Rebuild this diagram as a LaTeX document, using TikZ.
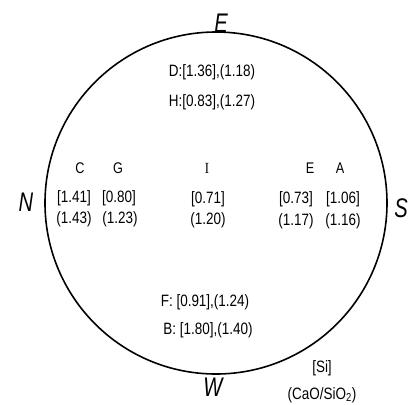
\documentclass[tikz,border=0pt]{standalone}
\usepackage{fontspec}
\setmainfont{Liberation Sans}
\newfontfamily\seriffont{Liberation Serif}
\newcommand\narrowtxt[1]{\scalebox{0.82}[1]{#1}}
\begin{document}
\begin{tikzpicture}[x=1bp,y=-1bp,
  lbl/.style={inner sep=0pt, font=\fontsize{15.5}{18}\selectfont},
  val/.style={inner sep=0pt, font=\fontsize{16.5}{18}\selectfont},
  compass/.style={inner sep=0pt, font=\fontsize{27}{27}\selectfont\itshape}]
\useasboundingbox (0,0) rectangle (414,405);
\node[draw, circle, line width=1.6bp, minimum size=342bp, inner sep=0pt] (ring) at (216,203) {};
% compass letters
\node[compass] (cE) at (221,23) {\scalebox{0.75}[1]{E}};
\node[compass] (cN) at (26,202) {\scalebox{0.75}[1]{N}};
\node[compass] (cS) at (401,208) {\scalebox{0.75}[1]{S}};
\node[compass] (cW) at (213,387) {\scalebox{0.75}[1]{W}};
% top text
\node[val] (D) at (212,72) {\narrowtxt{D:[1.36],(1.18)}};
\node[val] (H) at (212,102) {\narrowtxt{H:[0.83],(1.27)}};
% column headers
\node[lbl] (hC) at (80,168) {\narrowtxt{C}};
\node[lbl] (hG) at (118,168) {\narrowtxt{G}};
\node[lbl] (hI) at (207,168) {\narrowtxt{\seriffont I}};
\node[lbl] (hE) at (310,168) {\narrowtxt{E}};
\node[lbl] (hA) at (340,168) {\narrowtxt{A}};
% values
\node[val] (c1) at (74,198) {\narrowtxt{[1.41]}};
\node[val] (g1) at (119,198) {\narrowtxt{[0.80]}};
\node[val] (i1) at (208,199) {\narrowtxt{[0.71]}};
\node[val] (e1) at (296,199) {\narrowtxt{[0.73]}};
\node[val] (a1) at (343,199) {\narrowtxt{[1.06]}};
\node[val] (c2) at (74,219) {\narrowtxt{(1.43)}};
\node[val] (g2) at (120,219) {\narrowtxt{(1.23)}};
\node[val] (i2) at (208,220) {\narrowtxt{(1.20)}};
\node[val] (e2) at (296,221) {\narrowtxt{(1.17)}};
\node[val] (a2) at (343,221) {\narrowtxt{(1.16)}};
% bottom text
\node[val] (F) at (205,302) {\narrowtxt{F: [0.91],(1.24)}};
\node[val] (B) at (208,330) {\narrowtxt{B: [1.80],(1.40)}};
\node[val] (Si) at (322,368) {\narrowtxt{[Si]}};
\node[val] (CaO) at (322,395) {\narrowtxt{(CaO/SiO\textsubscript{2})}};
\end{tikzpicture}
\end{document}
